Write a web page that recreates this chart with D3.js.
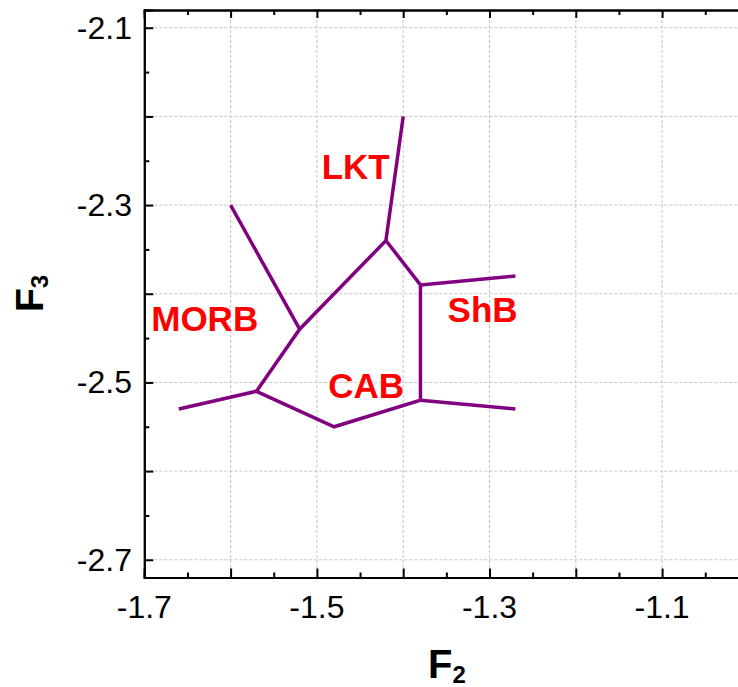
<!DOCTYPE html>
<html>
<head>
<meta charset="utf-8">
<script src="https://cdn.jsdelivr.net/npm/d3@7"></script>
<style>
  body { margin: 0; background: #fff; }
  svg { display: block; font-family: Arial, "Liberation Sans", sans-serif; }
</style>
</head>
<body>
<svg id="chart"></svg>
<script>
var width = 738,
    height = 687;

// field boundaries, [F2, F3]
var boundaries = [
  [[-1.60, -2.30], [-1.52, -2.44]],
  [[-1.66, -2.53], [-1.57, -2.51]],
  [[-1.57, -2.51], [-1.52, -2.44], [-1.42, -2.34], [-1.38, -2.39],
   [-1.38, -2.52], [-1.48, -2.55], [-1.57, -2.51]],
  [[-1.42, -2.34], [-1.40, -2.20]],
  [[-1.38, -2.39], [-1.27, -2.38]],
  [[-1.38, -2.52], [-1.27, -2.53]]
];

var fieldNames = ["LKT", "MORB", "ShB", "CAB"];
var fieldX = [-1.455, -1.630, -1.308, -1.443];
var fieldY = [-2.271, -2.442, -2.432, -2.518];

var xTicks = [-1.7, -1.5, -1.3, -1.1];
var yTicks = [-2.1, -2.3, -2.5, -2.7];
var xGrid = [-1.6, -1.5, -1.4, -1.3, -1.2, -1.1, -1.0];
var yGrid = [-2.1, -2.2, -2.3, -2.4, -2.5, -2.6, -2.7];

var x = d3.scaleLinear().domain([-1.7, -1.0]).range([144.3, 748.4]);
var y = d3.scaleLinear().domain([-2.72, -2.08]).range([577.5, 10]);

var svg = d3.select("#chart").attr("width", width).attr("height", height);

var x0 = x.range()[0], x1 = x.range()[1],
    yTop = y.range()[1], yBot = y.range()[0];

function fmt(d) { return d3.format(".1f")(d).replace("\u2212", "-"); }

// grid
svg.append("g").selectAll("line.v")
  .data(xGrid).enter().append("line")
  .attr("x1", d => x(d)).attr("x2", d => x(d))
  .attr("y1", yTop).attr("y2", yBot)
  .attr("stroke", "#c4c4c4").attr("stroke-width", 1)
  .attr("stroke-dasharray", "3,2");
svg.append("g").selectAll("line.h")
  .data(yGrid).enter().append("line")
  .attr("x1", x0).attr("x2", x1)
  .attr("y1", d => y(d)).attr("y2", d => y(d))
  .attr("stroke", "#c4c4c4").attr("stroke-width", 1)
  .attr("stroke-dasharray", "3,2");

// axes with inward ticks
var xMajor = d3.range(-1.7, -0.99, 0.1),
    xMinor = d3.range(-1.65, -0.99, 0.1),
    yMajor = d3.range(-2.7, -2.09, 0.1),
    yMinor = d3.range(-2.65, -2.09, 0.1);

var axisBottom = svg.append("g").attr("transform", "translate(0," + yBot + ")");
axisBottom.call(d3.axisTop(x).tickValues(xMajor).tickSize(9).tickFormat(""));
axisBottom.append("g").call(d3.axisTop(x).tickValues(xMinor).tickSize(5).tickFormat(""));

var axisTop = svg.append("g").attr("transform", "translate(0," + yTop + ")");
axisTop.call(d3.axisBottom(x).tickValues(xMajor).tickSize(8).tickFormat(""));
axisTop.append("g").call(d3.axisBottom(x).tickValues(xMinor).tickSize(5).tickFormat(""));

var axisLeft = svg.append("g").attr("transform", "translate(" + x0 + ",0)");
axisLeft.call(d3.axisRight(y).tickValues(yMajor).tickSize(9).tickFormat(""));
axisLeft.append("g").call(d3.axisRight(y).tickValues(yMinor).tickSize(5).tickFormat(""));

svg.selectAll(".domain").attr("stroke", "#000").attr("stroke-width", 2);
svg.selectAll(".tick line").attr("stroke", "#000").attr("stroke-width", 2);

// tick labels
svg.append("g").selectAll("text")
  .data(xTicks).enter().append("text")
  .attr("x", d => x(d)).attr("y", 618)
  .attr("text-anchor", "middle")
  .attr("font-size", 32)
  .text(fmt);
svg.append("g").selectAll("text")
  .data(yTicks).enter().append("text")
  .attr("x", 132).attr("y", d => y(d) + 11)
  .attr("text-anchor", "end")
  .attr("font-size", 32)
  .text(fmt);

// boundaries
var line = d3.line().x(d => x(d[0])).y(d => y(d[1]));
svg.append("g").selectAll("path")
  .data(boundaries).enter().append("path")
  .attr("d", line)
  .attr("fill", "none")
  .attr("stroke", "#800080")
  .attr("stroke-width", 3.5)
  .attr("stroke-linejoin", "miter");

// field labels
svg.append("g").selectAll("text")
  .data(fieldNames).enter().append("text")
  .attr("x", (d, i) => x(fieldX[i]))
  .attr("y", (d, i) => y(fieldY[i]))
  .attr("text-anchor", "middle")
  .attr("font-size", 35)
  .attr("font-weight", "bold")
  .attr("fill", "#ff0000")
  .text(d => d);

// axis titles
var xt = svg.append("text")
  .attr("x", 428).attr("y", 678)
  .attr("font-size", 40).attr("font-weight", "bold");
xt.append("tspan").text("F");
xt.append("tspan").attr("font-size", 24).attr("dy", 5).text("2");

var yt = svg.append("text")
  .attr("transform", "translate(43,312) rotate(-90)")
  .attr("font-size", 39).attr("font-weight", "bold");
yt.append("tspan").text("F");
yt.append("tspan").attr("font-size", 24).attr("dy", 5).text("3");
</script>
</body>
</html>
